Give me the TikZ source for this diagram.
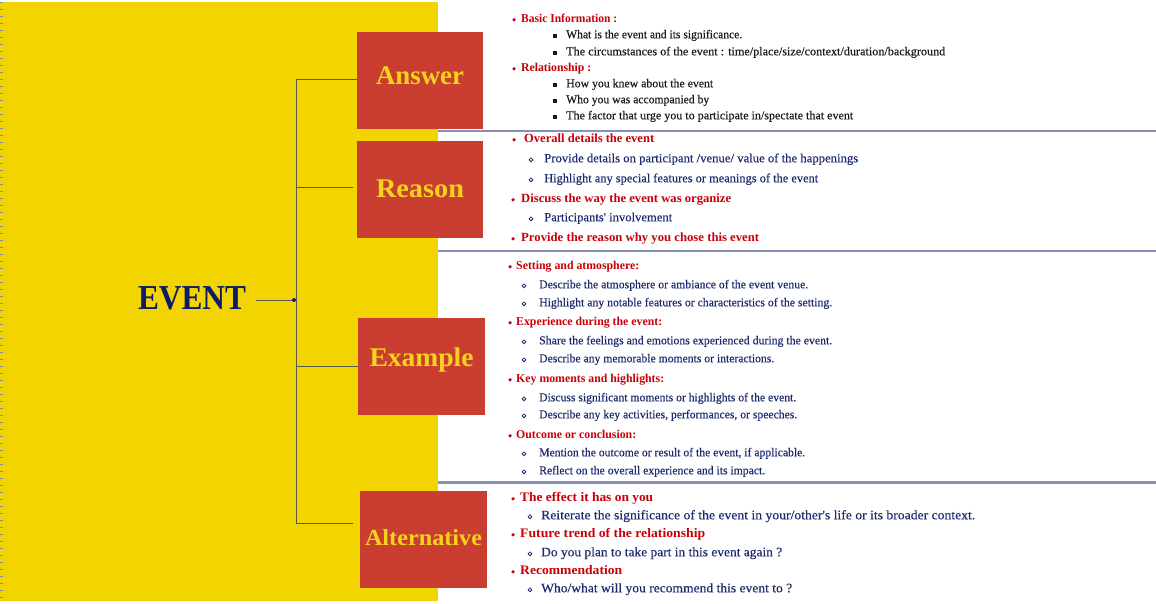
\documentclass[tikz,border=0pt]{standalone}
\usepackage{fontspec}
\setmainfont{Liberation Serif}
\newfontfamily\itemfont{Liberation Serif}[FakeBold=0.25]
\usepackage{graphicx}

\definecolor{bgyellow}{HTML}{F2D500}
\definecolor{boxred}{HTML}{C93E30}
\definecolor{lblyellow}{HTML}{F4D31A}
\definecolor{headred}{HTML}{C8000A}
\definecolor{bodynavy}{HTML}{1E2A6E}
\definecolor{bodyblack}{HTML}{1A1A1A}
\definecolor{eventnavy}{HTML}{0E1B68}
\definecolor{connline}{HTML}{5A5A48}
\definecolor{rulelight}{HTML}{8890B8}
\definecolor{ruledark}{HTML}{34458D}
\definecolor{edgegray}{HTML}{8A8A8A}

% set a line of text to a given width (horizontal scaling only)
\newsavebox\fitbox
\newcommand\fitw[2]{\sbox\fitbox{#2}\edef\fitwd{\the\wd\fitbox}%
  \pgfmathsetmacro\fitsc{#1/\fitwd}\scalebox{\fitsc}[1]{\usebox\fitbox}}

\newcommand\itemfs{11.5}

\tikzset{
  conn/.style={draw=connline, line width=1},
  catbox/.style={fill=boxred, inner sep=0, minimum width=127, minimum height=97,
    text=lblyellow, font=\bfseries\fontsize{27}{27}\selectfont},
  headtxt/.style={anchor=mid west, inner sep=0, yshift=-2pt, text=headred,
    font=\bfseries\fontsize{\itemfs}{\itemfs}\selectfont},
  bodytxt/.style={anchor=mid west, inner sep=0, yshift=-2pt, text=bodynavy,
    font=\itemfont\fontsize{\itemfs}{\itemfs}\selectfont},
  sectrule/.style={left color=rulelight, middle color=ruledark, right color=rulelight},
}

% bullet items: name, bullet x, text x, y, text width, text
\newcommand\headitem[6]{\fill[headred] (#2,#4+1.8) circle (1.8);
  \node[headtxt] (#1) at (#3,#4) {\fitw{#5}{#6}};}
\newcommand\squareitem[6]{\fill[bodyblack] (#2-2.2,#4-0.4) rectangle (#2+2.2,#4+4);
  \node[bodytxt, text=bodyblack] (#1) at (#3,#4) {\fitw{#5}{#6}};}
\newcommand\ringitem[6]{\draw[bodynavy, line width=0.8] (#2,#4+1.8) circle (1.9);
  \node[bodytxt] (#1) at (#3,#4) {\fitw{#5}{#6}};}

\begin{document}
\begin{tikzpicture}[x=1pt,y=-1pt]
\useasboundingbox (0,0) rectangle (1156,604);
\fill[white] (0,0) rectangle (1156,604);

% yellow panel with dotted left edge
\fill[bgyellow] (0,2) rectangle (438,601);
\draw[edgegray, line width=3pt, dash pattern=on 1pt off 6pt] (1.5,2) -- (1.5,601);

% section separators
\shade[sectrule] (438,130.3) rectangle (1156,131.9);
\shade[sectrule] (438,250.3) rectangle (1156,251.9);
\shade[sectrule] (438,481.5) rectangle (1156,483.1);

% central topic
\node[font=\bfseries\fontsize{35}{35}\selectfont, text=eventnavy, inner xsep=10, inner ysep=0]
  (event) at (192,298.5) {\fitw{108}{EVENT}};

% category boxes
\node[catbox, minimum width=126] (answer) at (420,80.5)
  {\raisebox{4.5pt}[\height][\depth]{\fitw{88}{Answer}}};
\node[catbox, minimum width=126] (reason) at (420,189.5)
  {\raisebox{1pt}[\height][\depth]{\fitw{88}{Reason}}};
\node[catbox] (example) at (421.5,366.5)
  {\raisebox{6.6pt}[\height][\depth]{\fitw{104}{Example}}};
\node[catbox, font=\bfseries\fontsize{23}{23}\selectfont] (alternative) at (423.5,539.5)
  {\raisebox{2pt}[\height][\depth]{\fitw{117}{Alternative}}};

% tree connectors
\coordinate (hub) at (294,300);
\coordinate (b1) at (296,80);
\coordinate (b2) at (296,188);
\coordinate (b3) at (296,366);
\coordinate (b4) at (296,523);
\draw[conn] (b1) -- (b4);
\draw[conn] (event.east |- hub) -- (hub);
\fill[eventnavy] (hub) circle (2);
\draw[conn] (b1) -- (b1 -| answer.west);
\draw[conn, shorten >=4pt] (b2) -- (b2 -| reason.west);
\draw[conn] (b3) -- (b3 -| example.west);
\draw[conn, shorten >=7pt] (b4) -- (b4 -| alternative.west);

% Answer
\renewcommand\itemfs{12}
\headitem{s1h1}{514}{521}{18}{96}{Basic Information :}
\squareitem{s1a}{555}{566}{34}{176}{What is the event and its significance.}
\squareitem{s1b}{555}{566}{51}{379}{The circumstances of the event : time/place/size/context/duration/background}
\headitem{s1h2}{514}{521}{67}{70}{Relationship :}
\squareitem{s1c}{555}{566}{83}{147}{How you knew about the event}
\squareitem{s1d}{555}{566}{99}{143}{Who you was accompanied by}
\squareitem{s1e}{555}{566}{115}{287}{The factor that urge you to participate in/spectate that event}

% Reason
\renewcommand\itemfs{12.5}
\headitem{s2h1}{514}{524}{138}{130}{Overall details the event}
\ringitem{s2a}{531}{544}{158}{314}{Provide details on participant /venue/ value of the happenings}
\ringitem{s2b}{531}{544}{178}{274}{Highlight any special features or meanings of the event}
\headitem{s2h2}{513}{521}{198}{210}{Discuss the way the event was organize}
\ringitem{s2c}{531}{544}{217}{128}{Participants' involvement}
\headitem{s2h3}{513}{521}{237}{238}{Provide the reason why you chose this event}

% Example
\renewcommand\itemfs{12}
\headitem{s3h1}{510}{516}{265}{123}{Setting and atmosphere:}
\ringitem{s3a}{524}{539}{284}{269}{Describe the atmosphere or ambiance of the event venue.}
\ringitem{s3b}{524}{539}{302}{293}{Highlight any notable features or characteristics of the setting.}
\headitem{s3h2}{510}{516}{321}{146}{Experience during the event:}
\ringitem{s3c}{524}{539}{340}{293}{Share the feelings and emotions experienced during the event.}
\ringitem{s3d}{524}{539}{358}{235}{Describe any memorable moments or interactions.}
\headitem{s3h3}{510}{516}{378}{148}{Key moments and highlights:}
\ringitem{s3e}{524}{539}{397}{257}{Discuss significant moments or highlights of the event.}
\ringitem{s3f}{524}{539}{414}{258}{Describe any key activities, performances, or speeches.}
\headitem{s3h4}{510}{516}{434}{120}{Outcome or conclusion:}
\ringitem{s3g}{524}{539}{452}{266}{Mention the outcome or result of the event, if applicable.}
\ringitem{s3h}{524}{539}{470}{226}{Reflect on the overall experience and its impact.}

% Alternative
\renewcommand\itemfs{13}
\headitem{s4h1}{513}{520}{497}{133}{The effect it has on you}
\ringitem{s4a}{530}{541}{515}{434}{Reiterate the significance of the event in your/other's life or its broader context.}
\headitem{s4h2}{513}{520}{533}{185}{Future trend of the relationship}
\ringitem{s4b}{530}{541}{552}{241}{Do you plan to take part in this event again ?}
\headitem{s4h3}{513}{520}{570}{102}{Recommendation}
\ringitem{s4c}{530}{541}{588}{251}{Who/what will you recommend this event to ?}
\end{tikzpicture}
\end{document}
